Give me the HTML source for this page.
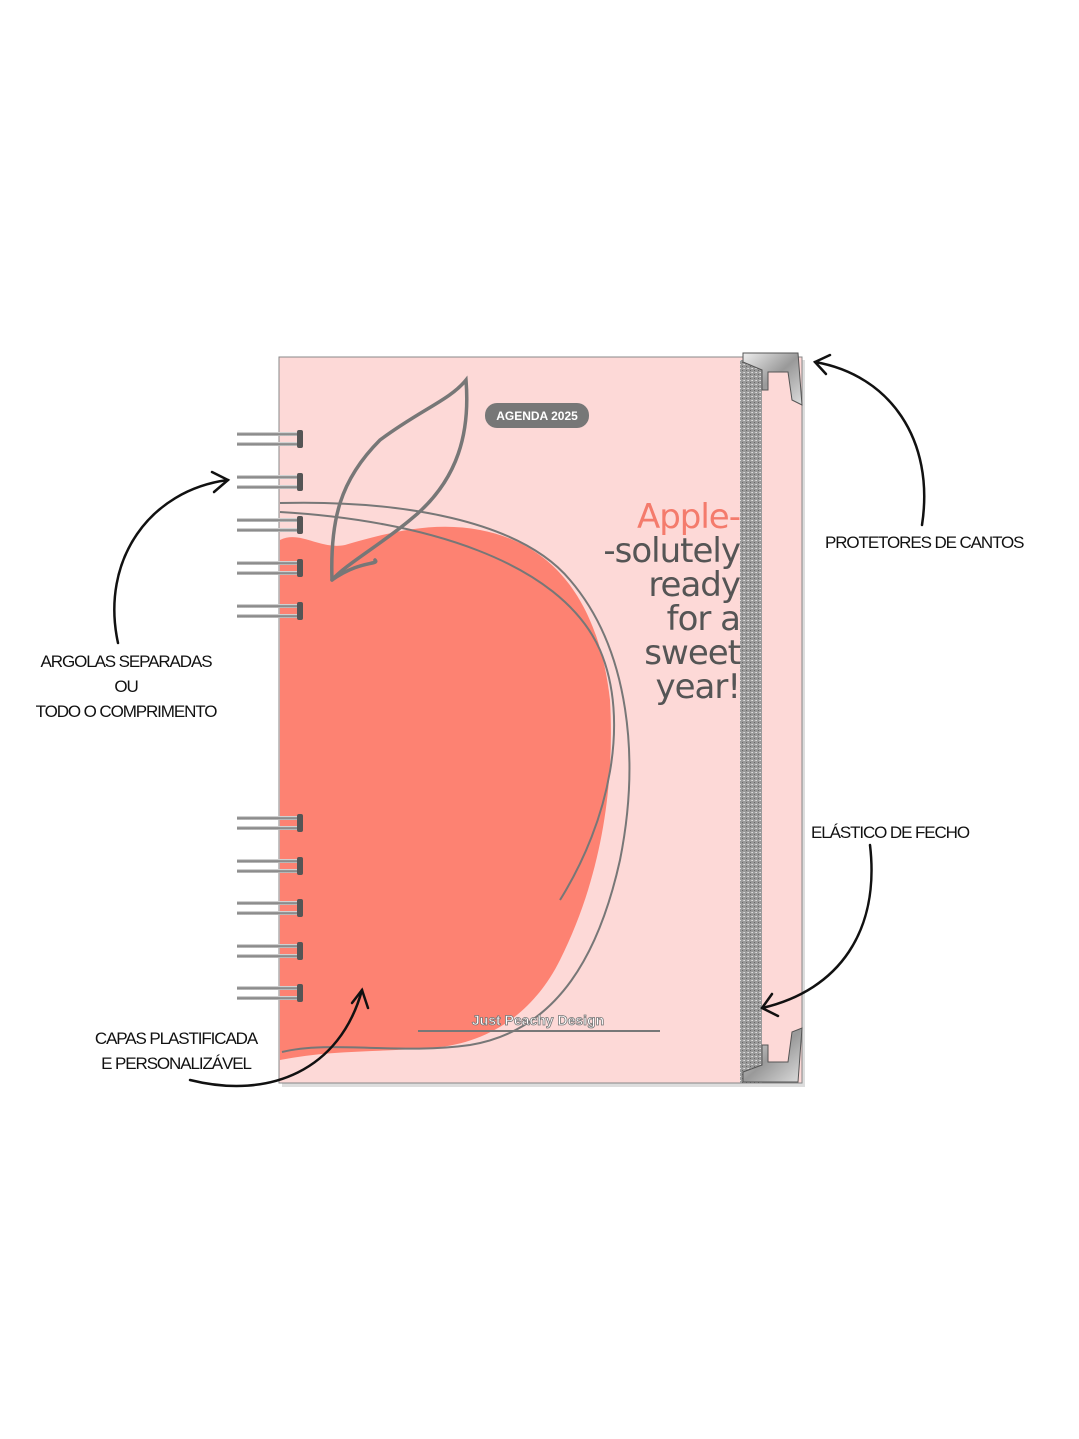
<!DOCTYPE html>
<html><head><meta charset="utf-8"><style>
body{margin:0;width:1079px;height:1439px;background:#fff;overflow:hidden}
svg{display:block}
.lbl{font-family:"Liberation Sans",sans-serif;font-size:17px;fill:#111;letter-spacing:-1.1px}
.t{font-family:"DejaVu Sans",sans-serif;font-size:34px;text-anchor:end;letter-spacing:-1px}
</style></head><body>
<svg width="1079" height="1439" viewBox="0 0 1079 1439">
<defs>
<linearGradient id="ring" x1="0" y1="0" x2="0" y2="1"><stop offset="0" stop-color="#eee"/><stop offset="0.5" stop-color="#777"/><stop offset="1" stop-color="#ccc"/></linearGradient>
<pattern id="glit" width="4" height="4" patternUnits="userSpaceOnUse"><rect width="4" height="4" fill="#9a9a9a"/><rect width="1" height="1" fill="#ddd"/><rect x="2" y="2" width="1" height="1" fill="#666"/><rect x="3" y="0" width="1" height="1" fill="#c8c8c8"/></pattern>
<linearGradient id="metal" x1="0" y1="0" x2="1" y2="1"><stop offset="0" stop-color="#eee"/><stop offset="0.5" stop-color="#999"/><stop offset="1" stop-color="#ddd"/></linearGradient>
</defs>
<rect x="282" y="360" width="523" height="727" fill="#ddd"/>
<rect x="279" y="357" width="523" height="726" fill="#fdd9d7" stroke="#888" stroke-width="1"/>
<path d="M280 540 C300 530 320 550 345 545 C380 535 430 520 480 530 C560 545 600 610 610 700 C615 790 600 880 560 960 C530 1020 480 1045 430 1048 C380 1052 330 1050 280 1060 Z" fill="#fd8272"/>
<g fill="none" stroke="#777" stroke-width="3.5" stroke-linecap="round">
<path d="M332 580 C330 520 340 480 380 440 C420 410 450 400 466 380 C470 430 460 480 410 520 C380 545 345 565 332 580"/>
<path d="M332 580 C360 560 380 565 375 560"/>
</g>
<g fill="none" stroke="#777" stroke-width="2">
<path d="M280 503 C400 500 520 520 570 580 C630 650 640 760 620 860 C600 950 560 1030 470 1045 C400 1055 330 1040 282 1052"/>
<path d="M280 512 C420 520 560 560 600 650 C630 720 610 820 560 900"/>
</g>
<g>
<g id="r"><rect x="237" y="432" width="64" height="4" fill="url(#ring)"/><rect x="237" y="442" width="64" height="4" fill="url(#ring)"/><rect x="297" y="430" width="6" height="18" rx="2" fill="#555"/></g>
<use href="#r" y="43"/><use href="#r" y="86"/><use href="#r" y="129"/><use href="#r" y="172"/>
<use href="#r" y="384"/><use href="#r" y="427"/><use href="#r" y="469"/><use href="#r" y="512"/><use href="#r" y="554"/>
</g>
<rect x="740" y="360" width="22" height="723" fill="url(#glit)"/>
<path d="M743 353 L798 353 L802 405 L792 400 L788 372 L768 372 L768 390 L762 390 L762 370 L743 362 Z" fill="url(#metal)" stroke="#555"/>
<path d="M743 1082 L798 1082 L802 1028 L792 1032 L788 1062 L768 1062 L768 1045 L762 1045 L762 1065 L743 1072 Z" fill="url(#metal)" stroke="#555"/>
<rect x="485" y="403" width="104" height="25" rx="12" fill="#777"/>
<text x="537" y="420" font-family="Liberation Sans" font-weight="bold" font-size="12" fill="#fff" text-anchor="middle">AGENDA 2025</text>
<text class="t" x="740" y="528" fill="#f47b6c">Apple-</text>
<text class="t" x="740" y="562" fill="#555">-solutely</text>
<text class="t" x="740" y="596" fill="#555">ready</text>
<text class="t" x="740" y="630" fill="#555">for a</text>
<text class="t" x="740" y="664" fill="#555">sweet</text>
<text class="t" x="740" y="698" fill="#555">year!</text>
<text x="538" y="1025" font-family="Liberation Sans" font-weight="bold" font-size="14" fill="#fff" stroke="#777" stroke-width="0.8" text-anchor="middle">Just Peachy Design</text>
<line x1="418" y1="1031" x2="660" y2="1031" stroke="#777" stroke-width="2"/>
<text class="lbl" x="825" y="548">PROTETORES DE CANTOS</text>
<text class="lbl" x="811" y="838">ELÁSTICO DE FECHO</text>
<text class="lbl" x="126" y="667" text-anchor="middle">ARGOLAS SEPARADAS</text>
<text class="lbl" x="126" y="692" text-anchor="middle">OU</text>
<text class="lbl" x="126" y="717" text-anchor="middle">TODO O COMPRIMENTO</text>
<text class="lbl" x="176" y="1044" text-anchor="middle">CAPAS PLASTIFICADA</text>
<text class="lbl" x="176" y="1069" text-anchor="middle">E PERSONALIZÁVEL</text>
<g fill="none" stroke="#111" stroke-width="2.5" stroke-linecap="round">
<path d="M922 525 C935 440 890 375 815 362"/><path d="M830 355 L815 362 L826 374"/>
<path d="M870 845 C880 930 840 990 762 1008"/><path d="M772 994 L762 1008 L778 1016"/>
<path d="M118 643 C100 560 150 490 228 480"/><path d="M212 472 L228 480 L214 492"/>
<path d="M190 1080 C270 1100 340 1070 362 990"/><path d="M352 1003 L362 990 L368 1008"/>
</g>
</svg>
</body></html>
